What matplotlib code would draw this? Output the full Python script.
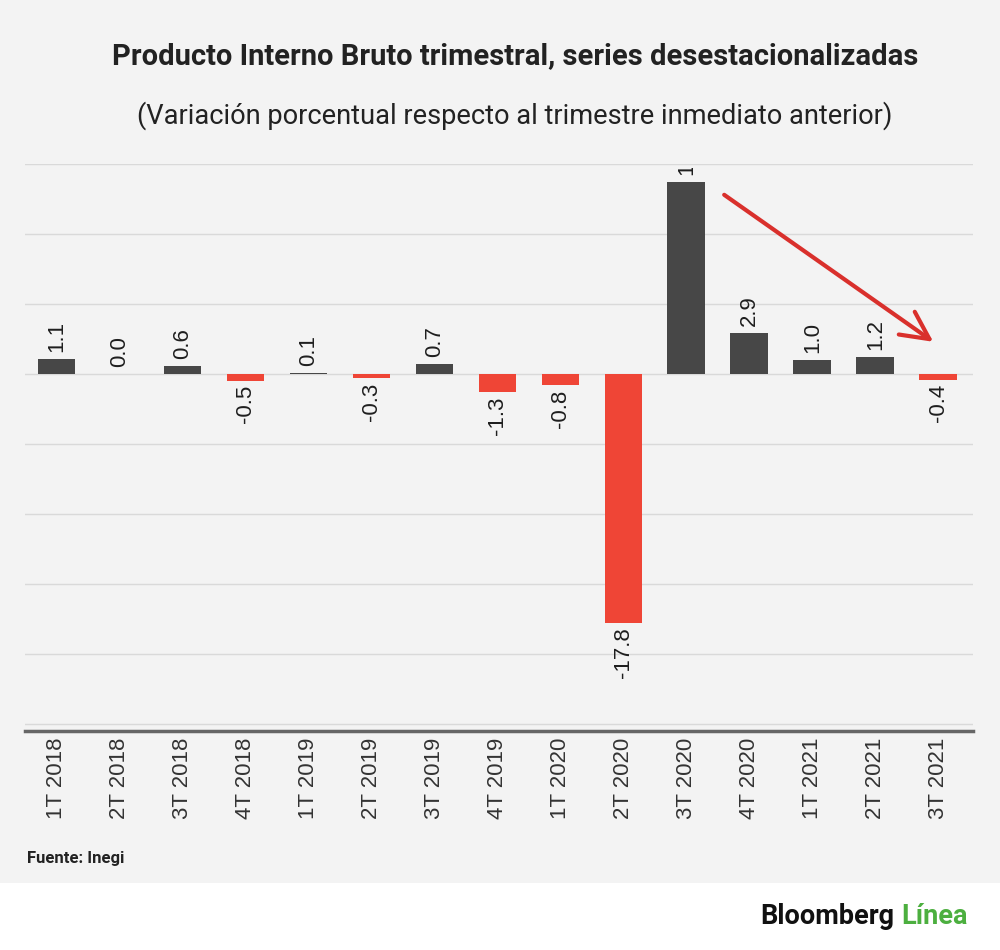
import numpy as np
import matplotlib
matplotlib.use('Agg')
import matplotlib.pyplot as plt
from matplotlib.patches import Rectangle
from matplotlib.transforms import Bbox, TransformedBbox

plt.rcParams['font.family'] = ['Roboto', 'DejaVu Sans']

quarters = ['1T 2018', '2T 2018', '3T 2018', '4T 2018', '1T 2019', '2T 2019', '3T 2019',
            '4T 2019', '1T 2020', '2T 2020', '3T 2020', '4T 2020', '1T 2021', '2T 2021', '3T 2021']
values = [1.1, 0.0, 0.6, -0.5, 0.1, -0.3, 0.7, -1.3, -0.8, -17.8, 13.7, 2.9, 1.0, 1.2, -0.4]

title = 'Producto Interno Bruto trimestral, series desestacionalizadas'
subtitle = '(Variación porcentual respecto al trimestre inmediato anterior)'

POS_COLOR = '#474747'
NEG_COLOR = '#ef4536'
PANEL = '#f3f3f3'
LABEL_FONT = ['Liberation Sans', 'DejaVu Sans']

fig = plt.figure(figsize=(10, 9.5), dpi=100)
fig.patch.set_facecolor(PANEL)
# white footer band with the logo
fig.patches.append(Rectangle((0, 0), 1, 67 / 950, transform=fig.transFigure,
                             facecolor='white', edgecolor='none', zorder=-1))

ax = fig.add_axes([0.025, 1 - 731 / 950, 0.948, (731 - 164) / 950])
ax.set_facecolor('none')

x = np.arange(len(values))
colors = [POS_COLOR if v >= 0 else NEG_COLOR for v in values]
ax.bar(x, values, width=0.6, color=colors, zorder=3)

ax.set_xlim(-0.5, 14.55)
ax.set_ylim(-25.5, 15)

# labels get cut a little below the top of the plot, like in the original
clip = TransformedBbox(Bbox([[-0.5, -25.5], [14.55, 14.75]]), ax.transData)
for xi, v in zip(x, values):
    if v >= 0:
        t = ax.annotate(f'{v:.1f}', (xi, v), xytext=(0, 5), textcoords='offset points',
                        rotation=90, ha='center', va='bottom', fontsize=16, color='#1e1e1e',
                        family=LABEL_FONT, annotation_clip=False)
    else:
        t = ax.annotate(f'{v:.1f}', (xi, v), xytext=(0, -3), textcoords='offset points',
                        rotation=90, ha='center', va='top', fontsize=16, color='#1e1e1e',
                        family=LABEL_FONT, annotation_clip=False)
    t.set_clip_box(clip)
    t.set_clip_on(True)

ax.set_yticks(np.arange(-25, 16, 5))
ax.set_yticklabels([])
ax.grid(axis='y', color='#d9d9d9', linewidth=1, zorder=0)
ax.tick_params(axis='y', length=0)
ax.set_xticks(x)
ax.set_xticklabels(quarters, rotation=90, fontsize=16, color='#333333', family=LABEL_FONT)
ax.tick_params(axis='x', length=0, pad=5)
for s in ['top', 'left', 'right']:
    ax.spines[s].set_visible(False)
ax.spines['bottom'].set_color('#666666')
ax.spines['bottom'].set_linewidth(2.5)

# arrow pointing at last quarter
ax.annotate('', xy=(13.92, 2.3), xytext=(10.6, 12.8),
            arrowprops=dict(arrowstyle='->,head_length=2.0,head_width=1.0',
                            color='#d9302c', lw=3, shrinkA=0, shrinkB=0),
            annotation_clip=False)

fig.text(0.515, 1 - 56 / 950, title, ha='center', va='center',
         fontsize=21, fontweight='bold', color='#222222')
fig.text(0.515, 1 - 116 / 950, subtitle, ha='center', va='center',
         fontsize=19.6, color='#222222')
fig.text(0.027, 1 - 858 / 950, 'Fuente: Inegi', ha='left', va='center',
         fontsize=12, fontweight='bold', color='#222222')

t1 = fig.text(0.760, 1 - 916 / 950, 'Bloomberg', ha='left', va='center',
              fontsize=19.5, fontweight='bold', color='#111111')
ax.annotate('Línea', xy=(1, 0), xycoords=t1, xytext=(5, 0), textcoords='offset points',
            ha='left', va='bottom', fontsize=19.5, fontweight='bold', color='#4caf3f',
            annotation_clip=False)

fig.savefig('out.png', dpi=100, facecolor=fig.get_facecolor())
